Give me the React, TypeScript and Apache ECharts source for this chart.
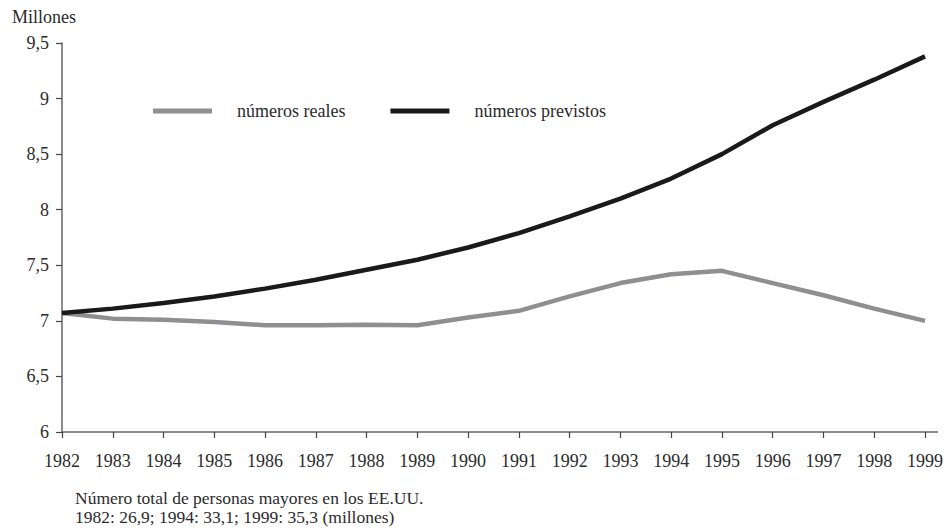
import React, { useEffect, useRef } from "react";
import * as echarts from "echarts";

const years = ["1982","1983","1984","1985","1986","1987","1988","1989","1990","1991","1992","1993","1994","1995","1996","1997","1998","1999"];
const reales = [7.07, 7.02, 7.01, 6.99, 6.96, 6.96, 6.965, 6.96, 7.03, 7.09, 7.22, 7.34, 7.42, 7.45, 7.34, 7.23, 7.11, 7.0];
const previstos = [7.07, 7.11, 7.16, 7.22, 7.29, 7.37, 7.46, 7.55, 7.66, 7.79, 7.94, 8.1, 8.28, 8.5, 8.76, 8.97, 9.17, 9.38];
const footnote = ["Número total de personas mayores en los EE.UU.", "1982: 26,9; 1994: 33,1; 1999: 35,3 (millones)"];
const yTitle = "Millones";

const FONT = "'Liberation Serif', 'DejaVu Serif', serif";
const TXT = "#2b2b2b";

export default function App() {
  const ref = useRef<HTMLDivElement>(null);
  useEffect(() => {
    document.body.style.margin = "0";
    const chart = echarts.init(ref.current!, null, { renderer: "svg" });
    chart.setOption({
      animation: false,
      backgroundColor: "#ffffff",
      textStyle: { fontFamily: FONT },
      grid: { left: 62, right: 25, top: 43, bottom: 99, containLabel: false },
      legend: {
        left: 148,
        top: 97,
        itemWidth: 59,
        itemHeight: 5,
        itemGap: 45,
        icon: "rect",
        textStyle: { fontFamily: FONT, fontSize: 18, color: TXT, padding: [0, 0, 0, 20] },
        data: ["números reales", "números previstos"],
      },
      graphic: [
        {
          type: "text",
          left: 12,
          top: 8,
          style: { text: yTitle, font: `18px ${FONT}`, fill: TXT },
        },
        {
          type: "text",
          left: 75,
          top: 489,
          style: { text: footnote[0], font: `17.5px ${FONT}`, fill: TXT },
        },
        {
          type: "text",
          left: 75,
          top: 508,
          style: { text: footnote[1], font: `17.5px ${FONT}`, fill: TXT },
        },
        {
          type: "line",
          shape: { x1: 925, y1: 432, x2: 938, y2: 432 },
          style: { stroke: "#666", lineWidth: 1.5 },
        },
      ],
      xAxis: {
        type: "category",
        data: years,
        boundaryGap: false,
        axisLine: { lineStyle: { color: "#666", width: 1.5 } },
        axisTick: { show: true, length: 6, inside: false, lineStyle: { color: "#444", width: 1.2 }, alignWithLabel: true },
        axisLabel: { color: TXT, fontSize: 18, fontFamily: FONT, margin: 20, interval: 0 },
        splitLine: { show: false },
      },
      yAxis: {
        type: "value",
        min: 6,
        max: 9.5,
        interval: 0.5,
        axisLine: { show: true, lineStyle: { color: "#666", width: 1.5 } },
        axisTick: { show: true, length: 6, lineStyle: { color: "#444", width: 1.2 } },
        axisLabel: {
          color: TXT,
          fontSize: 18,
          fontFamily: FONT,
          margin: 13,
          formatter: (v: number) => String(v).replace(".", ","),
        },
        splitLine: { show: false },
      },
      series: [
        {
          name: "números reales",
          type: "line",
          data: reales,
          showSymbol: false,
          symbol: "none",
          lineStyle: { color: "#8f8f91", width: 4.5 },
          itemStyle: { color: "#8f8f91" },
        },
        {
          name: "números previstos",
          type: "line",
          data: previstos,
          showSymbol: false,
          symbol: "none",
          lineStyle: { color: "#1a1a1a", width: 4.5 },
          itemStyle: { color: "#1a1a1a" },
        },
      ],
    });
    return () => chart.dispose();
  }, []);
  return <div ref={ref} style={{ width: 950, height: 531 }} />;
}
